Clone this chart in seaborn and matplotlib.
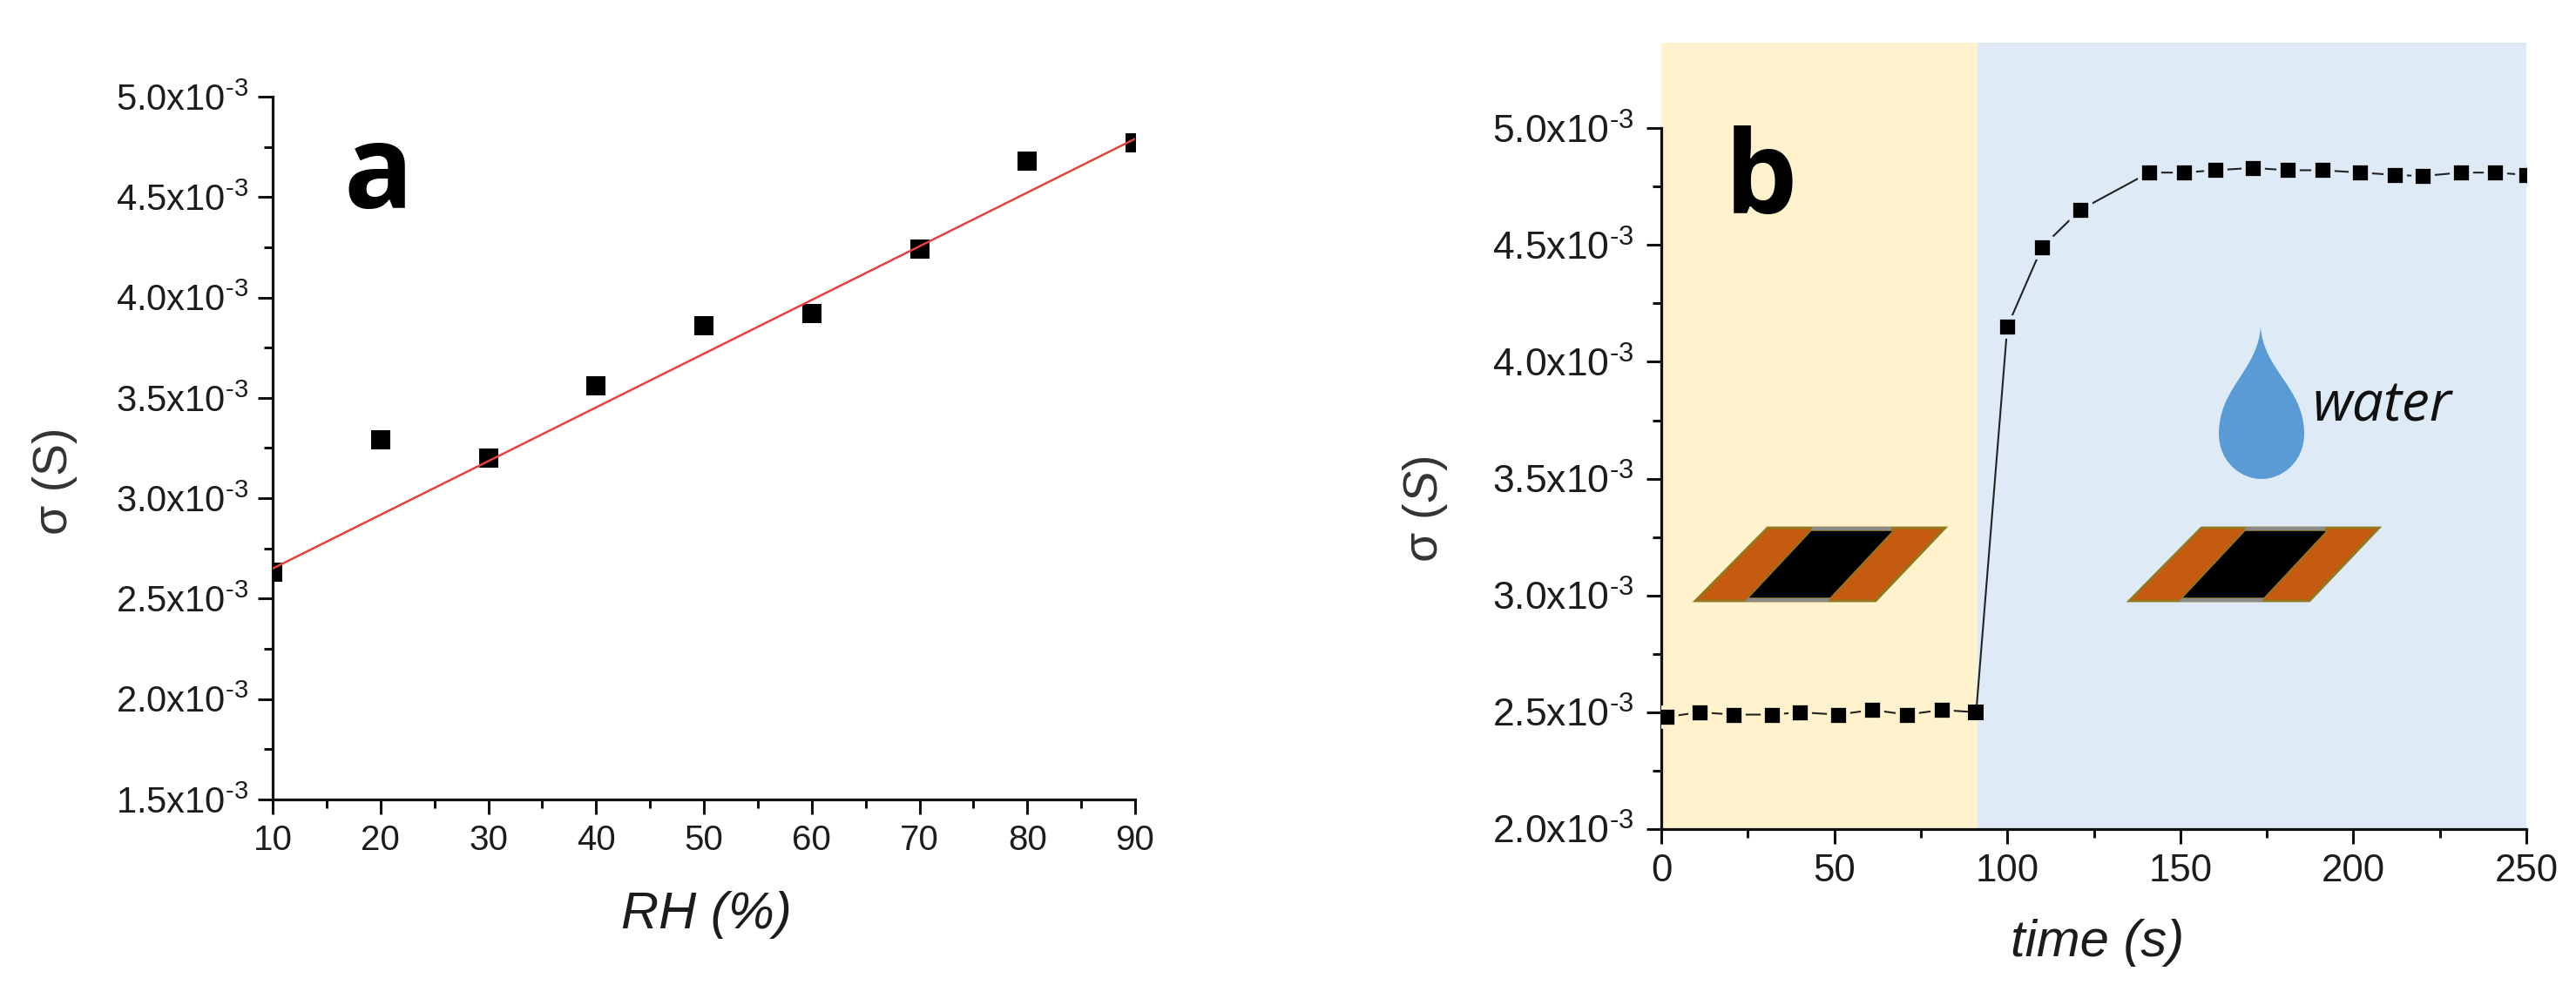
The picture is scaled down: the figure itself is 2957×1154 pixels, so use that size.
import matplotlib
matplotlib.use("Agg")
import matplotlib.pyplot as plt
from matplotlib.patches import PathPatch, Polygon
from matplotlib.path import Path
from matplotlib.ticker import FixedLocator, MultipleLocator
import numpy as np
import pandas as pd
import seaborn as sns

# Panel a
rh = [10, 20, 30, 40, 50, 60, 70, 80, 90]
sigma_rh = [2.63, 3.29, 3.20, 3.56, 3.86, 3.92, 4.24, 4.68, 4.77]
fit_rh = [10, 90]
fit_sigma = [2.65, 4.79]
rh_ticks = [10, 20, 30, 40, 50, 60, 70, 80, 90]
a_y_ticks = [1.5, 2.0, 2.5, 3.0, 3.5, 4.0, 4.5, 5.0]

# Panel b
time_s = [1.5, 11, 21, 32, 40, 51, 61, 71, 81, 91, 100, 110, 121, 141, 151, 160,
          171, 181, 191, 202, 212, 220, 231, 241, 250]
sigma_time = [2.48, 2.50, 2.49, 2.49, 2.50, 2.49, 2.51, 2.49, 2.51, 2.50, 4.15,
              4.49, 4.65, 4.81, 4.81, 4.82, 4.83, 4.82, 4.82, 4.81, 4.80, 4.795,
              4.81, 4.81, 4.80]
time_ticks = [0, 50, 100, 150, 200, 250]
b_y_ticks = [2.0, 2.5, 3.0, 3.5, 4.0, 4.5, 5.0]
water_start = 91.4

W, H = 2957, 1154
YELLOW = "#FFF2CC"
BLUE = "#DEEBF7"
TEXT = "#1c1c1c"

sns.set_theme(style="ticks")
plt.rcParams["font.family"] = ["Liberation Sans", "DejaVu Sans"]
plt.rcParams["mathtext.default"] = "regular"
plt.rcParams["mathtext.fontset"] = "custom"
plt.rcParams["mathtext.rm"] = "Liberation Sans"
plt.rcParams["mathtext.it"] = "Liberation Sans:italic"

fig = plt.figure(figsize=(W / 100, H / 100), dpi=100)


def axes_at(left, right, top, bottom):
    # Place axes using pixel edges of the full image
    return fig.add_axes([left / W, 1 - bottom / H, (right - left) / W, (bottom - top) / H])


def style_axes(ax, x_ticks, y_ticks, x_minor, x_size, y_size, y_pad):
    sns.despine(ax=ax)
    for side in ["left", "bottom"]:
        ax.spines[side].set_linewidth(2.3)
        ax.spines[side].set_color("#111111")
    ax.xaxis.set_major_locator(FixedLocator(x_ticks))
    ax.xaxis.set_minor_locator(MultipleLocator(x_minor))
    ax.yaxis.set_major_locator(FixedLocator(y_ticks))
    ax.yaxis.set_minor_locator(MultipleLocator(0.25))
    ax.set_yticklabels([f"{v:.1f}x10$^{{\\text{{-}}3}}$" for v in y_ticks])
    ax.tick_params(which="major", length=12, width=2.2, color="#111111", labelcolor=TEXT)
    ax.tick_params(which="minor", length=7, width=2.2, color="#111111")
    ax.tick_params(axis="x", which="major", labelsize=x_size, pad=8)
    ax.tick_params(axis="y", which="major", labelsize=y_size, pad=y_pad)
    ax.set_xlabel("")
    ax.set_ylabel("")


# Panel a: points and fitted line
ax_a = axes_at(313, 1303, 111, 918)
df_a = pd.DataFrame({"rh": rh, "sigma": sigma_rh})
df_fit = pd.DataFrame({"rh": fit_rh, "sigma": fit_sigma})
sns.scatterplot(data=df_a, x="rh", y="sigma", marker="s", s=240, color="black",
                linewidth=0, ax=ax_a, zorder=3)
sns.lineplot(data=df_fit, x="rh", y="sigma", color="#e8413c", linewidth=1.8, ax=ax_a, zorder=4)
ax_a.set_xlim(10, 90)
ax_a.set_ylim(1.5, 5.0)
style_axes(ax_a, rh_ticks, a_y_ticks, 5, 29, 30, 8)

# Panel b: time trace on the two coloured regions
ax_b = axes_at(1907, 2900, 49, 952)
df_b = pd.DataFrame({"time": time_s, "sigma": sigma_time})
ax_b.axvspan(0, water_start, color=YELLOW, linewidth=0, zorder=0)
ax_b.axvspan(water_start, 250, color=BLUE, linewidth=0, zorder=0)
sns.lineplot(data=df_b, x="time", y="sigma", color="#222222", linewidth=1.5, ax=ax_b, zorder=2)
dry = df_b[df_b["time"] < 90]
edge = df_b[(df_b["time"] >= 90) & (df_b["time"] < 95)]
wet = df_b[df_b["time"] >= 95]
sns.scatterplot(data=dry, x="time", y="sigma", marker="s", s=250, color="black",
                edgecolor=YELLOW, linewidth=3.4, ax=ax_b, zorder=3)
sns.scatterplot(data=wet, x="time", y="sigma", marker="s", s=250, color="black",
                edgecolor=BLUE, linewidth=3.4, ax=ax_b, zorder=3)
# The point on the region boundary has no halo
sns.scatterplot(data=edge, x="time", y="sigma", marker="s", s=150, color="black",
                linewidth=0, ax=ax_b, zorder=3)
ax_b.set_xlim(0, 250)
ax_b.set_ylim(2.0, 5.366)
style_axes(ax_b, time_ticks, b_y_ticks, 25, 31.5, 32, 10.5)
ax_b.spines["left"].set_bounds(2.0, 5.0)
ax_b.yaxis.set_minor_locator(FixedLocator(np.arange(2.0, 5.01, 0.25)))

# Overlay in image pixels for labels and the drawn sketches
over = fig.add_axes([0, 0, 1, 1], zorder=10)
over.set_xlim(0, W)
over.set_ylim(H, 0)
over.axis("off")
over.patch.set_alpha(0)

over.text(811, 1050, "RH (%)", style="italic", fontsize=43, color=TEXT, ha="center", va="center")
over.text(2408, 1082, "time (s)", style="italic", fontsize=43, color=TEXT, ha="center", va="center")
over.text(63, 552, "σ (S)", rotation=90, fontsize=40, color="#333333", ha="center", va="center")
over.text(1636, 585, "σ $\\mathit{(S)}$", rotation=90, fontsize=40, color="#333333",
          ha="center", va="center")
over.text(434, 205, "a", family="Open Sans", weight="bold", fontsize=95, color="black",
          ha="center", va="center")
over.text(2021, 210, "b", family="Open Sans", weight="bold", fontsize=95, color="black",
          ha="center", va="center")
over.text(2734, 466, "water", family="Open Sans", style="italic", fontsize=46, color="#111111",
          ha="center", va="center")


def draw_electrode(dx):
    # Substrate with two copper contacts, the black film and its grey top and bottom edges
    over.add_patch(Polygon([(1946 + dx, 690), (2029 + dx, 606), (2233 + dx, 606), (2153 + dx, 690)],
                           closed=True, facecolor="#c55a11", edgecolor="#8f7a1e", linewidth=2))
    over.add_patch(Polygon([(2006 + dx, 687), (2079 + dx, 609), (2174 + dx, 609), (2101 + dx, 687)],
                           closed=True, facecolor="black", edgecolor="#8f7a1e", linewidth=1.2))
    over.add_patch(Polygon([(2081 + dx, 605), (2172 + dx, 605), (2170 + dx, 609), (2078 + dx, 609)],
                           closed=True, facecolor="#8a8a8a", edgecolor="none"))
    over.add_patch(Polygon([(2006 + dx, 687), (2101 + dx, 687), (2098 + dx, 691), (2003 + dx, 691)],
                           closed=True, facecolor="#8a8a8a", edgecolor="none"))


draw_electrode(0)
draw_electrode(498)

# Water drop
drop = Path(
    [(2595, 375), (2598, 425), (2645, 445), (2645, 498), (2645, 530), (2620, 550), (2596, 550),
     (2572, 550), (2547, 530), (2547, 498), (2547, 445), (2592, 425), (2595, 375)],
    [Path.MOVETO] + [Path.CURVE4] * 12,
)
over.add_patch(PathPatch(drop, facecolor="#5B9BD5", edgecolor="none"))

fig.savefig("out.png", dpi=100)
